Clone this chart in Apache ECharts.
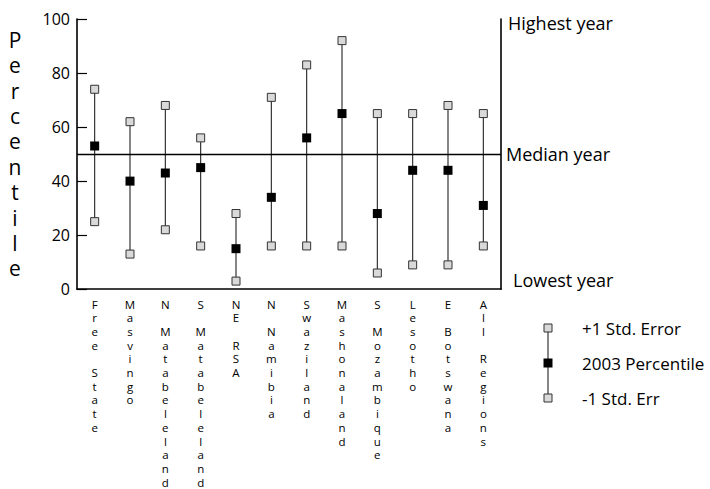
<!DOCTYPE html>
<html>
<head>
<meta charset="utf-8">
<script src="https://cdn.jsdelivr.net/npm/echarts@6/dist/echarts.min.js"></script>
<style>html,body{margin:0;padding:0;background:#fff;}#chart{width:710px;height:489px;}</style>
</head>
<body>
<div id="chart"></div>
<script>
const categories = ['Free State','Masvingo','N Matabeleland','S Matabeleland','NE RSA','N Namibia','Swaziland','Mashonaland','S Mozambique','Lesotho','E Botswana','All Regions'];
const plusSE = [74,62,68,56,28,71,83,92,65,65,68,65];
const percentile2003 = [53,40,43,45,15,34,56,65,28,44,44,31];
const minusSE = [25,13,22,16,3,16,16,16,6,9,9,16];
const medianValue = 50;
const rightAxisLabels = {0:'Lowest year', 50:'Median year', 100:'Highest year'};
const legendLabels = ['+1 Std. Error','2003 Percentile','-1 Std. Err'];
const yAxisTitle = 'Percentile';

const FONT = 'Open Sans';
const chart = echarts.init(document.getElementById('chart'), null, {renderer:'svg'});

const errData = categories.map((c,i)=>[i, minusSE[i], plusSE[i]]);

const option = {
  animation:false,
  backgroundColor:'#fff',
  textStyle:{fontFamily:FONT, color:'#000'},
  grid:[
    {left:77, right:209, top:19, bottom:199},
    {left:543, width:10, top:328, height:70}
  ],
  xAxis:[
    {type:'category', gridIndex:0, data:categories, boundaryGap:true,
     axisLine:{lineStyle:{color:'#000', width:1.6}},
     axisTick:{inside:true, length:5, lineStyle:{color:'#000', width:1.2}},
     axisLabel:{interval:0, margin:8, fontFamily:FONT, fontSize:11.5, lineHeight:13.7, color:'#000', verticalAlign:'top',
       formatter:(v)=>v.split('').join('\n')}
    },
    {type:'value', gridIndex:1, min:-1, max:1, show:false}
  ],
  yAxis:[
    {type:'value', gridIndex:0, min:0, max:100, interval:20,
     axisLine:{show:true, lineStyle:{color:'#000', width:1.6}},
     axisTick:{show:true, inside:true, length:10, lineStyle:{color:'#000', width:1.2}},
     axisLabel:{fontFamily:FONT, fontSize:16, color:'#000', margin:7},
     splitLine:{show:false},
     name:yAxisTitle.split('').join('\n'), nameLocation:'middle', nameRotate:0, nameGap:62,
     nameTextStyle:{fontFamily:FONT, fontSize:21, lineHeight:25.4, color:'#000', align:'center', verticalAlign:'middle'}
    },
    {type:'value', gridIndex:0, position:'right', min:0, max:100, interval:50,
     axisLine:{show:true, lineStyle:{color:'#000', width:1.6}},
     axisTick:{show:false}, splitLine:{show:false},
     axisLabel:{margin:5, fontFamily:FONT, fontSize:18, color:'#000',
       formatter:(v)=>{ if(v===100) return '{h|'+rightAxisLabels[100]+'}'; if(v===0) return '{l|'+rightAxisLabels[0]+'}'; if(v===50) return '{m|'+rightAxisLabels[50]+'}'; return ''; },
       rich:{
         h:{fontFamily:FONT, fontSize:18, color:'#000', padding:[8,0,0,2]},
         m:{fontFamily:FONT, fontSize:18, color:'#000', padding:[0,0,0,0]},
         l:{fontFamily:FONT, fontSize:18, color:'#000', padding:[0,0,18,7]}
       }}
    },
    {type:'category', gridIndex:1, data:legendLabels, inverse:true, boundaryGap:false, position:'right',
     axisLine:{show:false}, axisTick:{show:false}, splitLine:{show:false},
     axisLabel:{margin:29, fontFamily:FONT, fontSize:17, color:'#000'}
    }
  ],
  series:[
    {type:'custom', xAxisIndex:0, yAxisIndex:0, data:errData, z:2,
     renderItem:(params, api)=>{
       const p1 = api.coord([api.value(0), api.value(1)]);
       const p2 = api.coord([api.value(0), api.value(2)]);
       return {type:'line', shape:{x1:p1[0], y1:p1[1], x2:p2[0], y2:p2[1]}, style:{stroke:'#222', lineWidth:1.1}};
     },
     markLine:{silent:true, symbol:'none', label:{show:false}, lineStyle:{color:'#000', width:1.3, type:'solid'},
       data:[{yAxis:medianValue}]}
    },
    {type:'scatter', name:legendLabels[0], xAxisIndex:0, yAxisIndex:0, data:plusSE, symbol:'rect', symbolSize:8, z:3,
     itemStyle:{color:'#d9d9d9', borderColor:'#333', borderWidth:1, opacity:1}},
    {type:'scatter', name:legendLabels[1], xAxisIndex:0, yAxisIndex:0, data:percentile2003, symbol:'rect', symbolSize:9, z:3,
     itemStyle:{color:'#000', opacity:1}},
    {type:'scatter', name:legendLabels[2], xAxisIndex:0, yAxisIndex:0, data:minusSE, symbol:'rect', symbolSize:8, z:3,
     itemStyle:{color:'#d9d9d9', borderColor:'#333', borderWidth:1, opacity:1}},
    {type:'line', xAxisIndex:1, yAxisIndex:2, data:legendLabels.map(l=>[0,l]), symbol:'none', z:2,
     lineStyle:{color:'#222', width:1.1}},
    {type:'scatter', xAxisIndex:1, yAxisIndex:2, data:[[0,legendLabels[0]],[0,legendLabels[2]]], symbol:'rect', symbolSize:8, z:3,
     itemStyle:{color:'#d9d9d9', borderColor:'#333', borderWidth:1, opacity:1}},
    {type:'scatter', xAxisIndex:1, yAxisIndex:2, data:[[0,legendLabels[1]]], symbol:'rect', symbolSize:9, z:3,
     itemStyle:{color:'#000', opacity:1}}
  ]
};
chart.setOption(option);
</script>
</body>
</html>
